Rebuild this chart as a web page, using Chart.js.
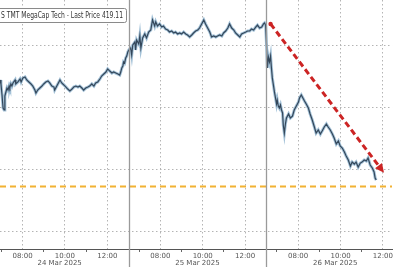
<!DOCTYPE html>
<html>
<head>
<meta charset="utf-8">
<script src="https://cdn.jsdelivr.net/npm/chart.js@4.4.1/dist/chart.umd.min.js"></script>
<style>
  html, body { margin: 0; padding: 0; background: #fff; }
  #wrap { width: 393px; height: 267px; position: relative; }
</style>
</head>
<body>
<div id="wrap"><canvas id="myChart"></canvas></div>
<script>
// session 06:30 - 13:00, minutes since the open
const dayLabels = ['24 Mar 2025', '25 Mar 2025', '26 Mar 2025'];
const tickHours = [7, 8, 9, 10, 11, 12];
const labelHours = [8, 10, 12];
const yTicks = [415, 420, 425, 430];

const mar24Minutes = [26, 29, 32, 35, 38, 40, 43, 46, 49, 52, 54, 57, 60, 63, 69, 71, 77, 83, 86, 91, 97, 102, 108, 114, 119, 125, 128, 133, 139, 145, 150, 156, 162, 167, 173, 179, 181, 187, 193, 196, 201, 207, 213, 218, 224, 230, 235, 241, 247, 252, 258, 263, 269, 275, 280, 286, 292, 297, 303, 309, 314, 320, 326, 331, 337, 343, 348, 354, 360, 365, 368, 371, 374, 376, 379, 382, 385, 388];
const mar24Prices = [427.18, 426.86, 425.97, 424.92, 424.76, 425.89, 426.21, 426.53, 426.37, 426.69, 426.53, 426.86, 426.69, 426.94, 427.18, 426.86, 427.02, 427.26, 427.02, 427.34, 427.42, 427.18, 427.02, 426.86, 426.69, 426.37, 426.13, 426.37, 426.53, 426.69, 426.86, 427.02, 427.10, 426.94, 426.69, 426.61, 426.37, 426.69, 427.02, 427.18, 426.94, 426.78, 426.61, 426.45, 426.29, 426.45, 426.61, 426.69, 426.61, 426.69, 426.53, 426.37, 426.53, 426.61, 426.69, 426.86, 426.69, 426.94, 427.02, 427.26, 427.50, 427.66, 427.82, 428.07, 427.90, 427.74, 427.82, 427.74, 427.66, 427.58, 427.82, 428.15, 428.31, 428.63, 428.55, 428.95, 429.11, 429.44];

const mar25Minutes = [1, 6, 9, 12, 18, 20, 23, 29, 32, 35, 40, 46, 51, 57, 63, 66, 68, 74, 77, 82, 88, 94, 99, 105, 111, 116, 122, 128, 133, 139, 145, 150, 156, 162, 167, 173, 179, 184, 190, 196, 201, 207, 213, 218, 224, 230, 235, 241, 247, 252, 258, 264, 269, 275, 281, 286, 292, 298, 303, 309, 315, 320, 326, 332, 337, 343, 348, 354, 360, 365, 371, 377, 382, 385, 388];
const mar25Prices = [429.60, 429.76, 429.19, 430.00, 430.24, 429.60, 430.40, 430.08, 430.73, 429.76, 430.57, 430.89, 430.57, 431.05, 431.21, 431.70, 432.02, 431.53, 431.86, 431.53, 431.70, 431.45, 431.53, 431.29, 431.21, 431.05, 431.13, 430.97, 431.05, 430.89, 430.97, 430.89, 431.05, 430.89, 430.81, 430.65, 430.81, 430.97, 431.13, 431.21, 431.37, 431.70, 432.02, 431.70, 431.37, 431.05, 430.65, 430.73, 430.65, 430.73, 430.81, 430.73, 430.97, 431.13, 431.37, 431.70, 431.37, 431.21, 430.97, 430.81, 430.65, 430.89, 430.97, 431.05, 431.13, 431.13, 431.29, 431.21, 431.45, 431.61, 431.37, 431.45, 431.70, 431.78, 431.61];

const mar26Minutes = [0, 3, 6, 9, 12, 14, 17, 20, 23, 26, 29, 31, 34, 37, 40, 43, 46, 48, 51, 54, 57, 63, 68, 74, 79, 85, 91, 94, 99, 102, 108, 113, 119, 124, 130, 136, 141, 147, 153, 158, 164, 170, 175, 181, 187, 192, 198, 204, 209, 215, 221, 226, 232, 238, 243, 249, 254, 260, 266, 271, 277, 283, 288, 294, 300, 305, 308, 311];
const mar26Prices = [430.40, 428.15, 429.03, 428.63, 429.11, 428.31, 427.34, 426.78, 426.21, 425.73, 425.24, 425.56, 425.08, 424.92, 425.16, 424.76, 424.52, 423.55, 422.90, 423.63, 424.11, 424.44, 424.11, 424.27, 424.76, 425.08, 425.40, 425.73, 425.97, 425.81, 425.48, 425.24, 424.92, 424.44, 423.95, 423.39, 422.90, 423.15, 422.82, 423.07, 423.39, 423.63, 423.39, 423.15, 422.82, 422.50, 422.02, 422.26, 421.86, 421.69, 421.37, 421.05, 420.73, 420.24, 420.56, 420.40, 420.56, 420.16, 420.48, 420.56, 420.73, 420.65, 420.89, 420.32, 420.08, 419.76, 419.27, 419.11];

const supportLevel = 418.6;
// trend arrow: day index, minutes since open, price
const arrowFrom = { day: 2, minutes: 12, price: 431.7 };
const arrowTo = { day: 2, minutes: 333, price: 419.7 };

const SESSION = 6.5;
const OPEN = 6.5;
const pos = (day, minutes) => day * SESSION + minutes / 60;

const days = [[mar24Minutes, mar24Prices], [mar25Minutes, mar25Prices], [mar26Minutes, mar26Prices]];
const series = [];
days.forEach(([mins, prices], d) => {
    mins.forEach((m, i) => series.push({ x: pos(d, m), y: prices[i] }));
});

const ticks = [];
dayLabels.forEach((_, d) => {
    tickHours.forEach(h => ticks.push({ value: d * SESSION + (h - OPEN), hour: h }));
});

const xMin = 0.4376, xMax = 18.93;

const overlay = {
    id: 'overlay',
    afterDatasetsDraw(chart) {
        const { ctx, scales: { x, y } } = chart;
        ctx.save();
        // day separators
        ctx.strokeStyle = '#9a9a9a';
        ctx.lineWidth = 1.3;
        for (let d = 1; d < dayLabels.length; d++) {
            const px = Math.round(x.getPixelForValue(d * SESSION)) + 0.5;
            ctx.beginPath();
            ctx.moveTo(px, 0);
            ctx.lineTo(px, chart.height);
            ctx.stroke();
        }
        // date labels
        ctx.fillStyle = '#555';
        ctx.font = '7px "DejaVu Sans"';
        ctx.textAlign = 'center';
        ctx.textBaseline = 'middle';
        dayLabels.forEach((t, d) => {
            ctx.fillText(t, x.getPixelForValue(d * SESSION + SESSION / 2), 263);
        });
        // arrow
        const x1 = x.getPixelForValue(pos(arrowFrom.day, arrowFrom.minutes));
        const y1 = y.getPixelForValue(arrowFrom.price);
        const x2 = x.getPixelForValue(pos(arrowTo.day, arrowTo.minutes));
        const y2 = y.getPixelForValue(arrowTo.price);
        const ang = Math.atan2(y2 - y1, x2 - x1);
        const head = 10;
        ctx.strokeStyle = '#cc2424';
        ctx.fillStyle = '#cc2424';
        ctx.lineWidth = 3;
        ctx.setLineDash([6, 3.5]);
        ctx.beginPath();
        ctx.moveTo(x1, y1);
        ctx.lineTo(x2 - Math.cos(ang) * head * 0.8, y2 - Math.sin(ang) * head * 0.8);
        ctx.stroke();
        ctx.setLineDash([]);
        ctx.beginPath();
        ctx.arc(x1, y1, 2.2, 0, Math.PI * 2);
        ctx.fill();
        ctx.beginPath();
        ctx.moveTo(x2, y2);
        ctx.lineTo(x2 - Math.cos(ang - 0.45) * head, y2 - Math.sin(ang - 0.45) * head);
        ctx.lineTo(x2 - Math.cos(ang + 0.45) * head, y2 - Math.sin(ang + 0.45) * head);
        ctx.closePath();
        ctx.fill();
        // title box
        ctx.fillStyle = '#fff';
        ctx.strokeStyle = '#8a8a8a';
        ctx.lineWidth = 1;
        ctx.beginPath();
        ctx.roundRect(-5.5, 8.5, 132, 14, 2);
        ctx.fill();
        ctx.stroke();
        ctx.fillStyle = '#333';
        ctx.font = '8px "DejaVu Sans"';
        ctx.textAlign = 'left';
        ctx.fillText('S TMT MegaCap Tech - Last Price 419.11', 1, 15.8, 122);
        ctx.restore();
    }
};

const config = {
    type: 'line',
    data: {
        datasets: [
            {
                data: [{ x: xMin, y: supportLevel }, { x: xMax, y: supportLevel }],
                borderColor: '#f2b233',
                borderWidth: 2,
                borderDash: [6, 4],
                pointRadius: 0
            },
            {
                data: series,
                borderColor: '#34475a',
                borderWidth: 1.2,
                pointRadius: 0,
                tension: 0,
                order: -1
            },
            {
                data: series,
                borderColor: '#a4c2d8',
                borderWidth: 3,
                pointRadius: 0,
                tension: 0
            }
        ]
    },
    options: {
        responsive: true,
        maintainAspectRatio: false,
        animation: false,
        layout: { padding: 0 },
        plugins: { legend: { display: false }, tooltip: { enabled: false } },
        scales: {
            x: {
                type: 'linear',
                min: xMin,
                max: xMax,
                afterBuildTicks: (s) => { s.ticks = ticks.map(t => ({ value: t.value })); },
                afterFit: (s) => { s.height = 18; },
                border: { display: true, color: '#555', width: 1, dash: [1.5, 2.5] },
                grid: {
                    color: (c) => (c.tick && labelHours.includes(ticks[c.index]?.hour)) ? '#b4b4b4' : 'rgba(0,0,0,0)',
                    tickColor: (c) => (c.tick && labelHours.includes(ticks[c.index]?.hour)) ? 'rgba(0,0,0,0)' : '#666',
                    tickLength: 3,
                    lineWidth: 1
                },
                ticks: {
                    autoSkip: false,
                    maxRotation: 0,
                    padding: 0,
                    color: '#555',
                    font: { family: 'DejaVu Sans', size: 7 },
                    callback: (v, i) => {
                        const h = ticks[i].hour;
                        return labelHours.includes(h) ? String(h).padStart(2, '0') + ':00' : '';
                    }
                }
            },
            y: {
                min: 413.55,
                max: 433.63,
                afterBuildTicks: (s) => { s.ticks = yTicks.map(v => ({ value: v })); },
                afterFit: (s) => { s.width = 0; },
                border: { display: false, dash: [1.5, 2.5] },
                grid: { color: '#b4b4b4', drawTicks: false },
                ticks: { display: false }
            }
        }
    },
    plugins: [overlay]
};

new Chart(document.getElementById('myChart').getContext('2d'), config);
</script>
</body>
</html>
